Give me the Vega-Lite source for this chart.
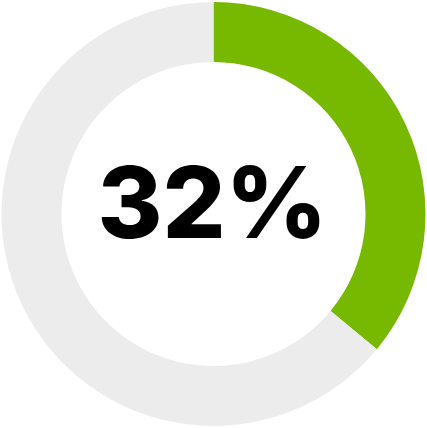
{
  "$schema": "https://vega.github.io/schema/vega-lite/v6.json",
  "width": 427,
  "height": 428,
  "autosize": {"type": "fit", "contains": "padding"},
  "padding": 0,
  "background": "white",
  "data": {
    "values": [
      {"part": "done", "value": 36, "order": 1},
      {"part": "rest", "value": 64, "order": 2}
    ]
  },
  "layer": [
    {
      "mark": {"type": "arc", "outerRadius": 212, "innerRadius": 152},
      "encoding": {
        "theta": {"field": "value", "type": "quantitative", "stack": true},
        "order": {"field": "order", "type": "quantitative"},
        "color": {
          "field": "part",
          "type": "nominal",
          "scale": {"domain": ["done", "rest"], "range": ["#76b900", "#ececec"]},
          "legend": null
        }
      }
    },
    {
      "data": {"values": [{"label": "32%"}]},
      "mark": {
        "type": "text",
        "font": "Inter",
        "fontWeight": 800,
        "fontSize": 99,
        "color": "#000000",
        "baseline": "alphabetic",
        "align": "center",
        "dx": -1,
        "dy": 24
      },
      "encoding": {
        "text": {"field": "label", "type": "nominal"}
      }
    }
  ],
  "config": {"view": {"stroke": null}}
}
